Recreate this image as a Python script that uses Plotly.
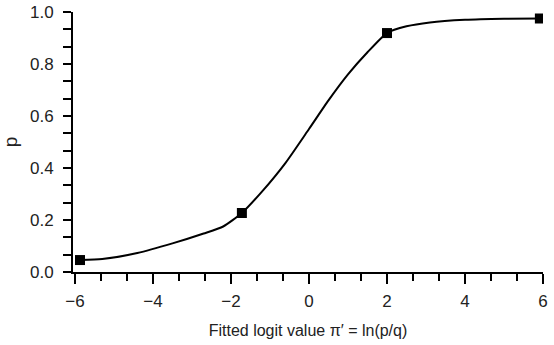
import plotly.graph_objects as go

# Observed data points (squares)
obs_x = [-5.87, -1.72, 2.0, 5.92]
obs_p = [0.046, 0.227, 0.919, 0.975]

# Fitted curve
curve_x = [-5.87, -5.3, -4.4, -3.5, -2.7, -2.2, -1.72, -1.2, -0.6, 0.0, 0.5, 1.0, 1.5, 2.0, 2.5, 3.1, 4.0, 5.0, 5.92]
curve_p = [0.046, 0.050, 0.073, 0.110, 0.148, 0.175, 0.227, 0.310, 0.420, 0.550, 0.660, 0.760, 0.845, 0.919, 0.945, 0.960, 0.970, 0.974, 0.975]

x_tickvals = [-6, -4, -2, 0, 2, 4, 6]
x_ticktext = ["\u22126", "\u22124", "\u22122", "0", "2", "4", "6"]
y_tickvals = [0.0, 0.2, 0.4, 0.6, 0.8, 1.0]
y_ticktext = ["0.0", "0.2", "0.4", "0.6", "0.8", "1.0"]

FONT = "Liberation Sans Narrow, Liberation Sans, Arial, sans-serif"

fig = go.Figure()
fig.add_trace(go.Scatter(x=curve_x, y=curve_p, mode="lines",
                         line=dict(color="black", width=2, shape="spline", smoothing=0.6),
                         hoverinfo="skip", showlegend=False))
fig.add_trace(go.Scatter(x=obs_x, y=obs_p, mode="markers",
                         marker=dict(symbol="square", size=10, color="black"),
                         showlegend=False))

fig.update_layout(
    width=554, height=345,
    margin=dict(l=73, r=11, t=12, b=73),
    paper_bgcolor="white", plot_bgcolor="white",
    font=dict(family=FONT, color="#222", size=17),
)
fig.update_xaxes(
    range=[-6.05, 6.0], showgrid=False, zeroline=False, automargin=False,
    showline=True, linecolor="black", linewidth=2,
    tickmode="array", tickvals=x_tickvals, ticktext=x_ticktext,
    ticks="outside", ticklen=10, tickwidth=2, tickcolor="black",
    ticklabelstandoff=3,
    minor=dict(dtick=2/3, tick0=-6, ticks="outside", ticklen=7, tickwidth=2, tickcolor="black"),
    tickfont=dict(size=17),
    title=dict(text="Fitted logit value \u03c0\u2032 = ln(p/q)", font=dict(size=16), standoff=14),
)
fig.update_yaxes(
    range=[0, 1.0], showgrid=False, zeroline=False, automargin=False,
    showline=True, linecolor="black", linewidth=2,
    tickmode="array", tickvals=y_tickvals, ticktext=y_ticktext,
    ticks="outside", ticklen=8, tickwidth=2, tickcolor="black",
    ticklabelstandoff=6,
    minor=dict(dtick=0.2/3, tick0=0, ticks="outside", ticklen=8, tickwidth=2, tickcolor="black"),
    tickfont=dict(size=17),
    title=dict(text="p", font=dict(size=19), standoff=18),
)

fig.write_html("out.html")
